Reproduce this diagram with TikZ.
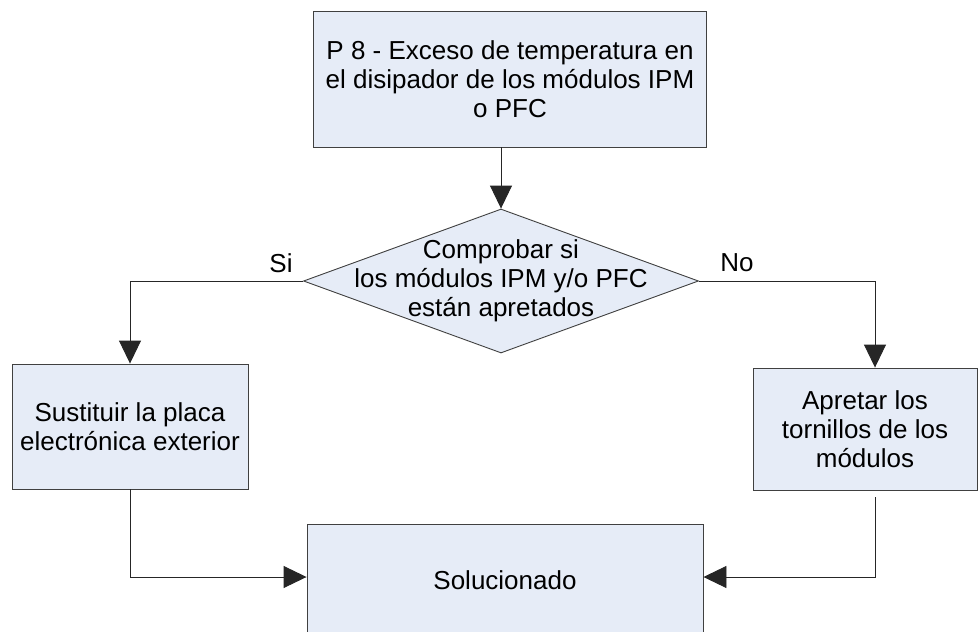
\documentclass[tikz,border=0pt]{standalone}
\usepackage{fontspec}
\setmainfont{Liberation Sans}
\usetikzlibrary{shapes.geometric,arrows.meta}
\definecolor{relleno}{RGB}{230,236,247}
\definecolor{borde}{RGB}{64,64,64}
\begin{document}
\begin{tikzpicture}[
    x=1pt, y=-1pt,
    every node/.style={font=\fontsize{26}{29}\selectfont},
    caja/.style={draw=borde, fill=relleno, line width=0.9pt, align=center, inner sep=2pt},
    rombo/.style={diamond, draw=borde, fill=relleno, line width=0.9pt, inner sep=0pt},
    flecha/.style={-{Triangle[length=23pt,width=22pt]}, line width=0.9pt, draw=black!85}
]
\useasboundingbox (0,0) rectangle (978,632);

% El problema
\node[caja, minimum width=393pt, minimum height=136pt] (prob) at (510,79)
    {P 8 - Exceso de temperatura en\\el disipador de los módulos IPM\\o PFC};

% La comprobación
\node[rombo, minimum width=395pt, minimum height=144pt] (check) at (501,281) {};
\node[align=center] (checktxt) at (check) {Comprobar si\\los módulos IPM y/o PFC\\están apretados};

% Las acciones
\node[caja, minimum width=236pt, minimum height=125pt] (replace) at (130,426.5)
    {Sustituir la placa\\electrónica exterior};
\node[caja, minimum width=224pt, minimum height=122pt] (tighten) at (865,429)
    {Apretar los\\tornillos de los\\módulos};

% Resultado
\node[caja, minimum width=396pt, minimum height=112pt] (solved) at (505,580) {Solucionado};

% Puntos de entrada y salida
\coordinate (noin) at ([xshift=10pt]tighten.north);
\coordinate (noout) at ([xshift=10pt]tighten.south);

% Conexiones
\draw[flecha] (check.north |- prob.south) -- (check.north);
\draw[flecha] (check.west) -| (replace.north);
\draw[flecha] (check.east) -| (noin);
\draw[flecha] (replace.south) |- ([yshift=3pt]solved.west);
\draw[flecha, shorten <=7pt] (noout) |- ([yshift=3pt]solved.east);

% Etiquetas
\node (si) at (281,263) {Si};
\node (no) at (737,263) {No};

\end{tikzpicture}
\end{document}
